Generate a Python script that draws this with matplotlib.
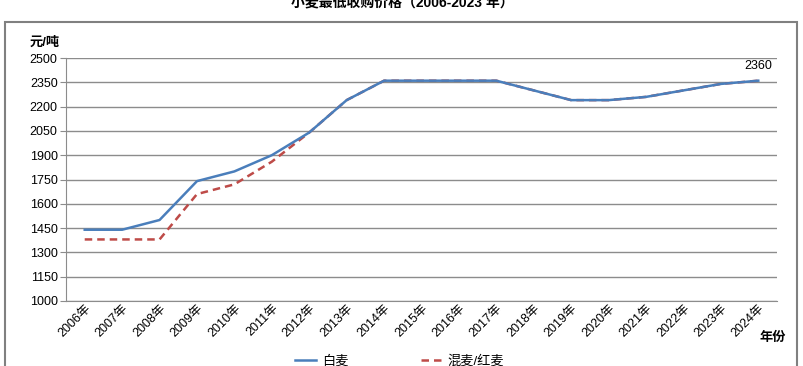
import matplotlib
matplotlib.use('Agg')
import matplotlib.pyplot as plt
from matplotlib.lines import Line2D

plt.rcParams['font.family'] = ['Liberation Sans', 'Noto Sans CJK SC', 'DejaVu Sans']

years = [str(y) + '年' for y in range(2006, 2025)]
white_wheat = [1440, 1440, 1500, 1740, 1800, 1900, 2040, 2240, 2360, 2360,
               2360, 2360, 2300, 2240, 2240, 2260, 2300, 2340, 2360]
mixed_red_wheat = [1380, 1380, 1380, 1660, 1720, 1860, 2040, 2240, 2360, 2360,
                   2360, 2360, 2300, 2240, 2240, 2260, 2300, 2340, 2360]
yticks = list(range(1000, 2501, 150))

fig = plt.figure(figsize=(8.04, 3.66), dpi=100)
ax = fig.add_axes([0.0821, 0.1776, 0.8843, 0.6639])

# outer chart frame (bottom edge falls outside the picture)
fl, fr, ft = 5 / 804, 797 / 804, 1 - 22 / 366
fig.add_artist(Line2D([fl, fl, fr, fr], [0, ft, ft, 0], transform=fig.transFigure,
                      color='#808080', linewidth=1.5, solid_joinstyle='miter'))

x = list(range(len(years)))
ax.plot(x, mixed_red_wheat, color='#be4b48', linewidth=1.8, dashes=(3, 2), label='混麦/红麦', zorder=3)
ax.plot(x, white_wheat, color='#4a7ebb', linewidth=1.8, label='白麦', zorder=4)

ax.set_xlim(-0.5, len(years) - 0.5)
ax.set_ylim(1000, 2500)
ax.set_yticks(yticks)
ax.yaxis.grid(True, color='#8c8c8c', linewidth=1)
ax.set_axisbelow(True)
for s in ['top', 'right']:
    ax.spines[s].set_visible(False)
ax.spines['left'].set_color('#8c8c8c')
ax.spines['bottom'].set_color('#8c8c8c')
ax.tick_params(axis='y', length=4, color='#8c8c8c', labelsize=9, pad=2)
ax.tick_params(axis='x', length=0, labelsize=9, pad=1)
ax.set_xticks(x)
ax.set_xticklabels(years, rotation=45, ha='right', va='top', rotation_mode='anchor')

ax.annotate(str(white_wheat[-1]), (x[-1], white_wheat[-1]), xytext=(0, 6),
            textcoords='offset points', ha='center', va='bottom', fontsize=9)

fig.text(0.5, 0.993, '小麦最低收购价格（2006-2023 年）', ha='center', va='center',
         fontsize=10, fontweight='bold')
fig.text(30 / 804, 1 - 43 / 366, '元/吨', ha='left', va='center', fontsize=9.5, fontweight='bold')
fig.text(760 / 804, 1 - 338 / 366, '年份', ha='left', va='center', fontsize=9.5, fontweight='bold')

h, l = ax.get_legend_handles_labels()
fig.legend(h[::-1], l[::-1], loc='center', bbox_to_anchor=(0.497, 1 - 361 / 366), ncol=2,
           frameon=False, fontsize=9.5, handlelength=1.6, columnspacing=5.5, handletextpad=0.4)

fig.savefig('out.png', dpi=100)
